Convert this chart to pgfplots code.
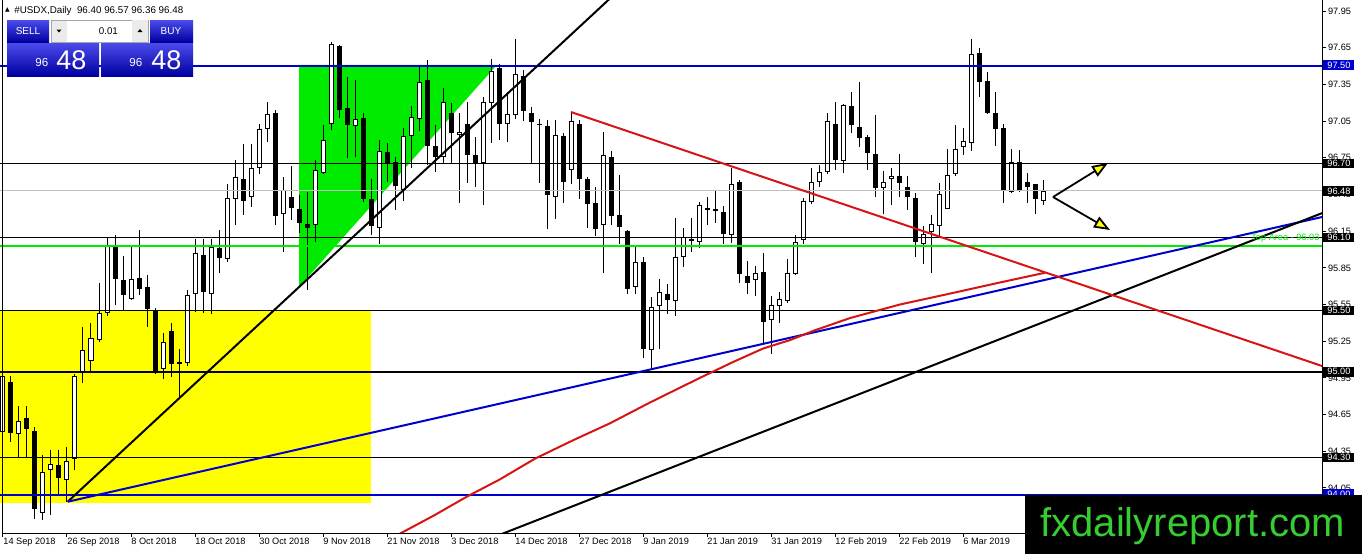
\documentclass[border=0pt]{standalone}
\usepackage{fontspec}
\setmainfont{Liberation Sans}
\newfontfamily\dejavu{DejaVu Sans}
\usepackage{pgfplots}
\pgfplotsset{compat=1.18}
\usepackage{pgfplotstable}
\usetikzlibrary{arrows.meta}

\definecolor{mtblue}{RGB}{0,0,205}
\definecolor{mtgreen}{RGB}{0,235,0}
\definecolor{mtred}{RGB}{215,20,20}
\definecolor{mtyellow}{RGB}{255,255,0}
\definecolor{mtsilver}{RGB}{192,192,192}
\definecolor{wmgreen}{RGB}{55,205,50}
\definecolor{btnT}{RGB}{75,75,235}
\definecolor{btnB}{RGB}{0,0,160}

\newcommand\tl{\fontsize{4.6}{5}\selectfont}

% daily candles, index 0 = 14 Sep 2018
\pgfplotstableread{
i o h l c
0 94.51 94.98 94.34 94.97
1 94.92 94.97 94.43 94.50
2 94.49 94.72 94.30 94.60
3 94.62 94.72 94.30 94.53
4 94.52 94.55 93.80 93.88
5 93.85 94.32 93.79 94.18
6 94.20 94.36 93.83 94.25
7 94.24 94.36 93.99 94.13
8 94.12 94.39 93.94 94.27
9 94.29 94.98 94.20 94.97
10 94.99 95.37 94.91 95.18
11 95.09 95.40 94.99 95.28
12 95.26 95.73 95.24 95.48
13 95.48 96.10 95.46 96.03
14 96.03 96.12 95.55 95.76
15 95.75 95.95 95.51 95.63
16 95.60 96.03 95.59 95.76
17 95.77 96.16 95.63 95.68
18 95.69 95.79 95.37 95.51
19 95.50 95.52 94.98 94.99
20 95.02 95.32 94.94 95.24
21 95.33 95.40 94.96 95.06
22 95.08 95.19 94.79 95.07
23 95.07 95.67 95.05 95.63
24 95.64 96.09 95.49 95.97
25 95.96 96.09 95.48 95.65
26 95.64 96.09 95.47 96.02
27 96.01 96.16 95.81 95.93
28 95.92 96.54 95.90 96.42
29 96.41 96.73 96.20 96.59
30 96.58 96.86 96.28 96.40
31 96.43 96.86 96.35 96.67
32 96.67 97.03 96.62 96.99
33 96.99 97.21 96.88 97.11
34 97.12 97.14 96.20 96.27
35 96.29 96.59 95.98 96.49
36 96.43 96.68 96.24 96.34
37 96.33 96.45 96.14 96.22
38 96.21 96.47 95.67 96.18
39 96.20 96.73 96.06 96.65
40 96.63 97.02 96.62 96.90
41 97.03 97.70 96.98 97.68
42 97.66 97.67 97.08 97.14
43 97.16 97.41 96.75 97.02
44 97.01 97.39 96.76 97.07
45 97.08 97.12 96.39 96.41
46 96.41 96.58 96.12 96.19
47 96.18 96.90 96.05 96.81
48 96.80 96.87 96.55 96.71
49 96.72 96.76 96.32 96.52
50 96.49 96.99 96.40 96.93
51 96.93 97.17 96.67 97.08
52 97.07 97.51 96.97 97.37
53 97.39 97.55 96.69 96.85
54 96.85 97.02 96.63 96.76
55 96.76 97.32 96.71 97.21
56 97.12 97.20 96.71 96.95
57 96.94 97.12 96.38 96.96
58 97.03 97.21 96.54 96.77
59 96.77 96.92 96.51 96.71
60 96.71 97.25 96.36 97.21
61 97.20 97.56 96.87 97.46
62 97.48 97.52 96.90 97.03
63 97.03 97.29 96.88 97.11
64 97.10 97.72 97.07 97.44
65 97.42 97.47 97.05 97.13
66 97.12 97.17 96.71 97.04
67 97.03 97.07 96.54 97.02
68 97.01 97.06 96.17 96.45
69 96.43 97.06 96.25 96.94
70 96.93 96.95 96.38 96.55
71 96.65 97.12 96.54 97.05
72 97.03 97.06 96.41 96.58
73 96.58 96.59 96.18 96.37
74 96.38 96.51 96.11 96.17
75 96.20 96.96 95.81 96.77
76 96.76 96.81 96.20 96.27
77 96.28 96.61 96.05 96.18
78 96.15 96.16 95.64 95.68
79 95.69 96.04 95.64 95.90
80 95.90 95.94 95.11 95.19
81 95.18 95.61 95.02 95.53
82 95.54 95.76 95.19 95.65
83 95.64 95.72 95.47 95.59
84 95.58 96.26 95.46 95.94
85 95.94 96.18 95.86 96.10
86 96.09 96.26 95.98 96.07
87 96.06 96.39 96.01 96.36
88 96.33 96.43 96.20 96.34
89 96.33 96.49 96.22 96.32
90 96.31 96.36 96.05 96.13
91 96.12 96.67 96.05 96.54
92 96.55 96.57 95.73 95.80
93 95.78 95.91 95.64 95.73
94 95.75 95.87 95.62 95.81
95 95.82 95.97 95.24 95.41
96 95.42 95.62 95.15 95.55
97 95.54 95.65 95.40 95.60
98 95.58 95.92 95.56 95.81
99 95.80 96.12 95.79 96.06
100 96.08 96.42 96.05 96.40
101 96.39 96.67 96.37 96.55
102 96.55 96.69 96.51 96.63
103 96.63 97.12 96.62 97.05
104 97.03 97.21 96.65 96.73
105 96.72 97.19 96.63 97.18
106 97.17 97.29 96.95 97.02
107 97.00 97.37 96.84 96.91
108 96.92 96.94 96.65 96.79
109 96.78 97.10 96.43 96.50
110 96.50 96.64 96.29 96.55
111 96.58 96.67 96.36 96.60
112 96.60 96.78 96.43 96.54
113 96.51 96.60 96.32 96.43
114 96.42 96.46 95.94 96.06
115 96.05 96.19 95.88 96.13
116 96.14 96.28 95.81 96.21
117 96.19 96.54 96.10 96.45
118 96.33 96.82 96.33 96.61
119 96.62 97.02 96.60 96.82
120 96.84 96.99 96.77 96.89
121 96.87 97.72 96.81 97.60
122 97.61 97.65 97.25 97.37
123 97.38 97.45 97.11 97.12
124 97.12 97.29 96.85 96.99
125 96.99 97.03 96.38 96.48
126 96.47 96.82 96.46 96.72
127 96.72 96.81 96.47 96.48
128 96.55 96.63 96.38 96.51
129 96.54 96.54 96.29 96.41
130 96.40 96.57 96.36 96.48
}\ohlc

% red moving average
\pgfplotstableread{
i p
48 93.62
54 93.83
58 93.98
62.1 94.12
66.5 94.29
71.25 94.44
75.9 94.58
80.9 94.75
87.1 94.95
91.25 95.08
95 95.19
98.4 95.26
101.5 95.34
105.9 95.44
112.1 95.55
118.4 95.64
124.6 95.73
130.25 95.81
}\ma

\begin{document}
\begin{tikzpicture}
\useasboundingbox (0,0) rectangle (681pt,277pt);
\begin{axis}[
  at={(0pt,10.5pt)}, anchor=south west, scale only axis,
  width=661pt, height=266.5pt,
  xmin=-0.375, xmax=164.875, ymin=93.682, ymax=98.04,
  axis line style={draw=none},
  xtick={0,8,...,120},
  xticklabels={14 Sep 2018, 26 Sep 2018, 8 Oct 2018, 18 Oct 2018, 30 Oct 2018, 9 Nov 2018, 21 Nov 2018, 3 Dec 2018, 14 Dec 2018, 27 Dec 2018, 9 Jan 2019, 21 Jan 2019, 31 Jan 2019, 12 Feb 2019, 22 Feb 2019, 6 Mar 2019},
  ytick={94.05,94.35,94.65,94.95,95.25,95.55,95.85,96.15,96.45,96.75,97.05,97.35,97.65,97.95},
  xtick pos=bottom, ytick pos=right, yticklabel pos=right,
  tick align=outside, major tick length=1.8pt,
  tick style={black, line width=0.5pt},
  tick label style={font=\tl, inner sep=0pt},
  xticklabel style={anchor=north west, yshift=-0.6pt},
  yticklabel style={anchor=west, xshift=1pt,
    /pgf/number format/fixed, /pgf/number format/fixed zerofill,
    /pgf/number format/precision=2, /pgf/number format/assume math mode=true},
  candle/.style={draw=none, mark=none, error bars/.cd, y dir=both, y explicit, error mark=none},
]
% zones
\addplot[fill=mtyellow, draw=none] coordinates {(-1,95.497) (46,95.497) (46,93.927) (-1,93.927)} -- cycle;
\addplot[fill=mtgreen, draw=none] coordinates {(37,97.51) (61.75,97.51) (37,95.693)} -- cycle;

% candles: wicks, bodies, white insides
\addplot[candle, error bar style={draw=black, line width=0.5pt}]
  table[x=i, y expr={(\thisrow{h}+\thisrow{l})/2}, y error expr={(\thisrow{h}-\thisrow{l})/2}] {\ohlc};
\addplot[candle, error bar style={draw=black, line width=2.5pt}]
  table[x=i, y expr={(\thisrow{o}+\thisrow{c})/2}, y error expr={max(abs(\thisrow{c}-\thisrow{o})/2,0.0041)}] {\ohlc};
\addplot[candle, error bar style={draw=white, line width=1.5pt}]
  table[x=i, y expr={(\thisrow{o}+\thisrow{c})/2}, y error expr={max((\thisrow{c}-\thisrow{o})/2-0.0082,0)}] {\ohlc};

% horizontal levels
\addplot[mtblue, line width=1pt] coordinates {(-1,97.5) (170,97.5)};
\addplot[black, line width=0.5pt] coordinates {(-1,96.7) (170,96.7)};
\addplot[mtsilver, line width=0.5pt] coordinates {(-1,96.48) (170,96.48)};
\addplot[black, line width=0.5pt] coordinates {(-1,96.1) (170,96.1)};
\addplot[mtgreen, line width=1pt] coordinates {(-1,96.03) (170,96.03)};
\addplot[black, line width=0.5pt] coordinates {(-1,95.5) (170,95.5)};
\addplot[black, line width=1pt] coordinates {(-1,95) (170,95)};
\addplot[black, line width=0.5pt] coordinates {(-1,94.3) (170,94.3)};
\addplot[mtblue, line width=1pt] coordinates {(-1,93.99) (170,93.99)};

% trend lines
\addplot[black, line width=1pt] coordinates {(8.09,93.938) (80,98.303)};
\addplot[mtblue, line width=1pt] coordinates {(8.09,93.938) (164.9,96.266)};
\addplot[black, line width=1pt] coordinates {(60,93.614) (164.9,96.298)};
\addplot[mtred, line width=1pt] coordinates {(71,97.124) (164.9,95.047)};
\addplot[mtred, line width=1pt] table[x=i, y=p] {\ma};
\end{axis}

\begin{scope}[x=0.5pt, y=-0.5pt, shift={(0pt,277pt)}]
% frame
\draw[black, line width=0.5pt] (2.7,0) -- (2.7,533.3) -- (1322,533.3) -- (1322,0);
% header
\node[anchor=center, inner sep=0pt] at (7.5,10) {\dejavu\fontsize{3}{3}\selectfont ▲};
\node[anchor=west, inner sep=0pt, font=\fontsize{4.9}{5}\selectfont] at (14,10.5) {\#USDX,Daily\ \ 96.40 96.57 96.36 96.48};
% trade panel
\shade[top color=btnT, bottom color=btnB] (7,20) rectangle (49,42);
\node[text=white, font=\fontsize{5}{5}\selectfont] at (28,31) {SELL};
\fill[black!8] (51,20) rectangle (67,42);
\fill[black] (56.5,29.5) -- (61.5,29.5) -- (59,32.5) -- cycle;
\fill[white] (67,20) rectangle (131,42);
\draw[black!35, line width=0.3pt] (51,20) rectangle (148,42);
\node[anchor=east, font=\fontsize{4.9}{5}\selectfont] at (125,31) {0.01};
\fill[black!8] (132,20.3) rectangle (147.8,41.7);
\fill[black] (137.5,32) -- (142.5,32) -- (140,29) -- cycle;
\shade[top color=btnT, bottom color=btnB] (150,20) rectangle (193,42);
\node[text=white, font=\fontsize{5}{5}\selectfont] at (171,31) {BUY};
\shade[top color=btnT, bottom color=btnB] (7,43) rectangle (99,76);
\shade[top color=btnT, bottom color=btnB] (101,43) rectangle (193,76);
\node[anchor=base west, inner sep=0pt, text=white, font=\fontsize{5.8}{6}\selectfont] at (35,66.5) {96};
\node[anchor=base west, inner sep=0pt, text=white, font=\fontsize{13.5}{14}\selectfont] at (56,69) {48};
\node[anchor=base west, inner sep=0pt, text=white, font=\fontsize{5.8}{6}\selectfont] at (129,66.5) {96};
\node[anchor=base west, inner sep=0pt, text=white, font=\fontsize{13.5}{14}\selectfont] at (151,69) {48};
% arrows
\draw[black, line width=0.9pt, -{Triangle[length=8pt, width=6pt, fill=mtyellow]}] (1053,197) -- (1108,163);
\draw[black, line width=0.9pt, -{Triangle[length=8pt, width=6pt, fill=mtyellow]}] (1053,197) -- (1110,230);
% zone caption
\node[anchor=south east, inner sep=0.6pt, text=mtgreen, font=\tl] at (1321,244) {Top Area - 96.03};
% price labels
\foreach \yy/\txt/\col in {65/97.50/mtblue, 163.5/96.70/black, 191/96.48/black, 237.3/96.10/black, 310.6/95.50/black, 371.8/95.00/black, 457.4/94.30/black, 494.1/94.00/mtblue}
  \node[anchor=west, fill=\col, text=white, font=\tl, inner sep=0pt, minimum width=15.5pt, minimum height=4.8pt] at (1323,\yy) {\txt};
% watermark
\fill[black] (1025,495) rectangle (1362,554);
\node[anchor=base west, inner sep=0pt, text=wmgreen, font=\fontsize{20}{20}\selectfont] at (1040,536) {fxdailyreport.com};
\end{scope}
\end{tikzpicture}
\end{document}
